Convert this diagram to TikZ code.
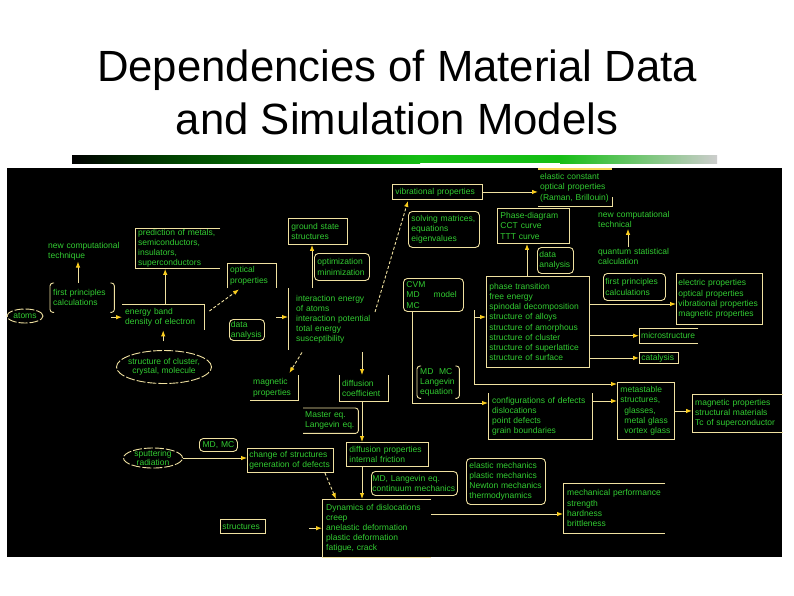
\documentclass[tikz,border=0pt]{standalone}
\usepackage{fontspec}
\setmainfont{Liberation Sans}
\usetikzlibrary{arrows.meta}
\usetikzlibrary{shapes}
\usetikzlibrary{calc}
\definecolor{wireline}{RGB}{240,225,160}
\definecolor{tiphead}{RGB}{250,205,30}
\definecolor{labelgreen}{RGB}{50,205,50}
\definecolor{bardark}{RGB}{0,70,0}
\definecolor{bargreen}{RGB}{20,190,20}
\definecolor{bargrey}{RGB}{205,205,205}
\hyphenpenalty=10000
\exhyphenpenalty=10000

\begin{document}
\begin{tikzpicture}[x=1pt, y=-1pt]
    \tikzset{lbl/.style = {anchor=north west, align=left, text=labelgreen, inner xsep=3pt, inner ysep=1pt, font=\fontsize{8.5}{10.2}\selectfont}}
    \tikzset{fbox/.style = {lbl, draw=wireline, line width=0.9pt}}
    \tikzset{rbox/.style = {fbox, rounded corners=4pt}}
    \tikzset{ell/.style = {ellipse, draw=wireline, line width=0.9pt, dash pattern=on 9pt off 2pt, align=center, text=labelgreen, inner sep=-6pt, font=\fontsize{8.5}{9.5}\selectfont}}
    \tikzset{wire/.style = {wireline, line width=0.9pt}}
    \tikzset{conn/.style = {wire, -{Latex[length=6pt, width=4.5pt, color=tiphead]}}}
    \tikzset{dconn/.style = {conn, densely dashed}}
    \useasboundingbox (0,0) rectangle (794,595);
    \fill[white] (0,0) rectangle (794,595);
    \node[font=\fontsize{43.7}{50}\selectfont, anchor=base] (title1) at (397,81) {Dependencies of Material Data};
    \node[font=\fontsize{43.7}{50}\selectfont, anchor=base] (title2) at (397,134) {and Simulation Models};
    \shade[left color=black, right color=bardark] (72,155) rectangle (180,163);
    \shade[left color=bardark, right color=bargreen] (180,155) rectangle (420,163);
    \fill[bargreen] (420,155) rectangle (560,163);
    \shade[left color=bargreen, right color=bargrey] (560,155) rectangle (717,163);
    \fill[black] (7,168) rectangle (782,557);

    % left part
    \node[lbl, text width=76pt] (newcompL) at (45,241) {new computational\\technique};
    \node[lbl, text width=58pt, minimum height=29pt] (fpL) at (50,283) {first principles\\calculations};
    \node[ell, minimum width=36pt, minimum height=14pt] (atoms) at (25,316) {atoms};
    \node[lbl, text width=79pt, minimum height=40pt] (pred) at (135,228) {prediction of metals,\\semiconductors,\\insulators,\\superconductors};
    \node[lbl, text width=76pt, minimum height=26pt] (eb) at (122,304) {energy band\\density of electron};
    \node[lbl, text width=43pt, minimum height=25pt] (optical) at (227,263) {optical\\properties};
    \node[rbox, inner xsep=1.5pt, text width=32pt, minimum height=21pt] (dataL) at (229,319) {data\\analysis};
    \node[ell, minimum width=95pt, minimum height=33pt] (cluster) at (164,367) {structure of cluster,\\crystal, molecule};
    \node[lbl, text width=42pt, minimum height=25pt] (magL) at (250,375) {magnetic\\properties};
    \node[rbox, inner xsep=2pt, text width=34pt, minimum height=13pt, align=center] (mdmcL) at (199,438) {MD, MC};
    \node[ell, minimum width=59pt, minimum height=20pt] (sput) at (153,458) {sputtering\\radiation};
    \node[fbox, inner xsep=2pt, text width=82pt, minimum height=24pt] (chg) at (247,448) {change of structures\\generation of defects};
    \node[fbox, inner xsep=2pt, text width=41pt, minimum height=14pt] (struct) at (220,519) {structures};

    % middle part
    \node[fbox, text width=53pt, minimum height=26pt] (gs) at (288,218) {ground state\\structures};
    \node[rbox, text width=49pt, minimum height=27pt] (opt) at (314,253) {optimization\\minimization};
    \node[lbl, inner xsep=8pt, text width=80pt, minimum height=62pt] (ie) at (288,288) {interaction energy\\of atoms\\interaction potential\\total energy\\susceptibility};
    \node[lbl, text width=43pt, minimum height=26pt] (diffc) at (339,375) {diffusion\\coefficient};
    \node[lbl, inner xsep=2pt, text width=51pt, minimum height=25pt] (master) at (303,408) {Master eq.\\Langevin eq.};
    \node[fbox, text width=76pt, minimum height=24pt] (diffp) at (346,442) {diffusion properties\\internal friction};
    \node[rbox, inner xsep=1pt, text width=84pt, minimum height=24pt] (mdlc) at (371,471) {MD, Langevin eq.\\continuum mechanics};
    \node[lbl, inner xsep=4pt, text width=101pt, minimum height=58pt] (dyn) at (322,499) {Dynamics of dislocations\\creep\\anelastic deformation\\plastic deformation\\fatigue, crack};
    \node[fbox, text width=84pt, minimum height=15pt] (vib) at (392,184) {vibrational properties};
    \node[rbox, text width=65pt, minimum height=36pt] (solv) at (408,211) {solving matrices,\\equations\\eigenvalues};
    \node[rbox, text width=54pt, minimum height=33pt] (cvm) at (403,278) {CVM\\MD\hspace{14pt}model\\MC};
    \node[lbl, text width=36pt, minimum height=32pt] (mdmc) at (417,366) {MD\ \ MC\\Langevin\\equation};
    \node[rbox, inner xsep=3pt, text width=73pt, minimum height=46pt] (elmech) at (466,458) {elastic mechanics\\plastic mechanics\\Newton mechanics\\thermodynamics};

    % right part
    \node[lbl, inner xsep=2pt, text width=70pt, minimum height=37pt] (elastic) at (538,169) {elastic constant\\optical properties\\(Raman, Brillouin)};
    \node[fbox, text width=66pt, minimum height=35pt] (pd) at (497,208) {Phase-diagram\\CCT curve\\TTT curve};
    \node[rbox, inner xsep=2pt, text width=32pt, minimum height=26pt] (dataR) at (537,247) {data\\analysis};
    \node[lbl, text width=76pt] (newcompR) at (595,210) {new computational\\technical};
    \node[lbl, text width=76pt] (quant) at (595,247) {quantum statistical\\calculation};
    \node[rbox, inner xsep=2pt, text width=58pt, minimum height=27pt] (fpR) at (603,273) {first principles\\calculations};
    \node[fbox, inner xsep=2pt, text width=82pt, minimum height=51pt] (elec) at (676,273) {electric properties\\optical properties\\vibrational properties\\magnetic properties};
    \node[fbox, text width=97pt, minimum height=91pt] (pt) at (486,276) {phase transition\\free energy\\spinodal decomposition\\structure of alloys\\structure of amorphous\\structure of cluster\\structure of superlattice\\structure of surface};
    \node[lbl, inner xsep=2pt, text width=55pt, minimum height=15pt] (micro) at (639,328) {microstructure};
    \node[fbox, inner xsep=2pt, text width=35pt, minimum height=11pt] (cat) at (639,352) {catalysis};
    \node[lbl, inner xsep=4pt, text width=96pt, minimum height=46pt] (conf) at (488,393) {configurations of defects\\dislocations\\point defects\\grain boundaries};
    \node[fbox, text width=51pt, minimum height=57pt] (meta) at (617,382) {metastable\\structures,\\\hspace*{4pt}glasses,\\\hspace*{4pt}metal glass\\\hspace*{4pt}vortex glass};
    \node[lbl, text width=85pt, minimum height=38pt] (magR) at (692,394) {magnetic properties\\structural materials\\Tc of superconductor};
    \node[lbl, inner xsep=4pt, text width=94pt, minimum height=50pt] (mech) at (563,483) {mechanical performance\\strength\\hardness\\brittleness};

    % open frames
    \draw[wire, rounded corners=3pt] ($(fpL.north west)+(4,0)$) -- (fpL.north west) -- (fpL.south west) -- ($(fpL.south west)+(4,0)$);
    \draw[wire, rounded corners=3pt] ($(fpL.north east)+(-4,0)$) -- (fpL.north east) -- (fpL.south east) -- ($(fpL.south east)+(-4,0)$);
    \draw[wire, rounded corners=3pt] ($(mdmc.north west)+(4,0)$) -- (mdmc.north west) -- (mdmc.south west) -- ($(mdmc.south west)+(4,0)$);
    \draw[wire, rounded corners=3pt] ($(mdmc.north east)+(-4,0)$) -- (mdmc.north east) -- (mdmc.south east) -- ($(mdmc.south east)+(-4,0)$);
    \draw[wire] (pred.north east) -- (pred.north west) -- (pred.south west) -- (pred.south east);
    \draw[wire] (eb.north west) -- (eb.north east) -- (eb.south east);
    \draw[wire] (optical.south west) -- (optical.north west) -- (optical.north east) -- (optical.south east);
    \draw[wire] (ie.north west) -- (ie.south west);
    \draw[wire] (magL.south west) -- (magL.south east) -- (magL.north east);
    \draw[wire] (diffc.north west) -- (diffc.south west) -- (diffc.south east) -- (diffc.north east);
    \draw[wire, rounded corners=3pt] (master.north west) -- (master.north east) -- (master.south east) -- (master.south west);
    \draw[wire] (dyn.north east) -- (dyn.north west) -- (dyn.south west) -- (dyn.south east);
    \draw[wire, line width=1.6pt, tiphead!60!wireline] (elastic.north west) -- (elastic.north east);
    \draw[wire] (elastic.south west) -- (elastic.south east) -- ($(elastic.south east)+(0,-9)$);
    \draw[wire] (micro.north east) -- (micro.north west) -- (micro.south west) -- (micro.south east);
    \draw[wire] (conf.north west) -- (conf.south west) -- (conf.south east) -- (conf.north east);
    \draw[wire] (magR.north east) -- (magR.north west) -- (magR.south west) -- (magR.south east);
    \draw[wire] (mech.north east) -- (mech.north west) -- (mech.south west) -- (mech.south east);

    % connectors
    \coordinate (fpLtop) at ($(fpL.north west)+(28,0)$);
    \draw[conn] (fpLtop) -- (fpLtop |- newcompL.south);
    \coordinate (atomsin) at ($(eb.west)+(-11,0)$);
    \draw[conn] (atomsin) -- (eb.west);
    \coordinate (clustin) at ($(eb.south)+(0,11)$);
    \draw[conn] (clustin) -- (eb.south);
    \coordinate (ebtop) at ($(eb.north)+(2,0)$);
    \draw[conn] (ebtop) -- (ebtop |- pred.south);
    \draw[dconn] ($(eb.north east)+(5,7)$) -- ($(optical.south west)+(12,1)$);
    \coordinate (ietop) at ($(ie.north west)+(24,0)$);
    \draw[conn] (ietop) -- (ietop |- gs.south);
    \coordinate (datain) at ($(ie.north west)+(-12,29)$);
    \draw[conn] (datain) -- (datain -| ie.west);
    \coordinate (vibfoot) at (375,312);
    \draw[dconn] (vibfoot) -- ($(vib.south west)+(16,1)$);
    \draw[conn] (vib.east) -- (vib.east -| elastic.west);
    \coordinate (pttop) at ($(pt.north west)+(41,0)$);
    \draw[conn] (pttop) -- (pttop |- pd.south);
    \coordinate (quanttop) at ($(quant.north west)+(33,0)$);
    \draw[conn] (quanttop) -- (quanttop |- newcompR.south);
    \coordinate (ptout) at ($(pt.north east)+(0,28)$);
    \draw[conn] (ptout) -- (ptout -| elec.west);
    \draw[conn] (micro.west -| pt.east) -- (micro.west);
    \draw[conn] (cat.west -| pt.east) -- (cat.west);
    \coordinate (fork) at (474,310);
    \coordinate (ptin) at ($(pt.north west)+(0,41)$);
    \draw[conn] (fork) |- (ptin);
    \coordinate (metain) at ($(meta.north west)+(0,2)$);
    \draw[conn] (fork) |- (metain);
    \coordinate (cvmfoot) at ($(cvm.south west)+(9,0)$);
    \coordinate (confin) at ($(conf.north west)+(0,10)$);
    \draw[conn] (cvmfoot) |- (confin);
    \coordinate (confout) at ($(conf.north east)+(0,8)$);
    \draw[conn] (confout) -- (confout -| meta.west);
    \draw[conn] (meta.east) -- (meta.east -| magR.west);
    \draw[dconn] ($(ie.south west)+(14,2)$) -- ($(magL.north east)+(-9,-2)$);
    \coordinate (iefoot) at ($(ie.south west)+(74,2)$);
    \draw[conn] (iefoot) -- (iefoot |- diffc.north);
    \coordinate (diffcfoot) at ($(diffc.south west)+(23,0)$);
    \draw[conn] (diffcfoot) -- (diffcfoot |- diffp.north);
    \coordinate (diffpfoot) at ($(diffp.south west)+(16,0)$);
    \draw[conn] (diffpfoot) -- (diffpfoot |- dyn.north);
    \draw[dconn] ($(chg.south east)+(-9,0)$) -- ($(dyn.north west)+(14,0)$);
    \draw[conn] (sput.east) -- (sput.east -| chg.west);
    \coordinate (structin) at ($(dyn.west)+(-13,0)$);
    \draw[conn] (structin) -- (dyn.west);
    \coordinate (dynout) at ($(dyn.north east)+(0,15)$);
    \draw[conn] (dynout) -- (dynout -| mech.west);
\end{tikzpicture}
\end{document}
